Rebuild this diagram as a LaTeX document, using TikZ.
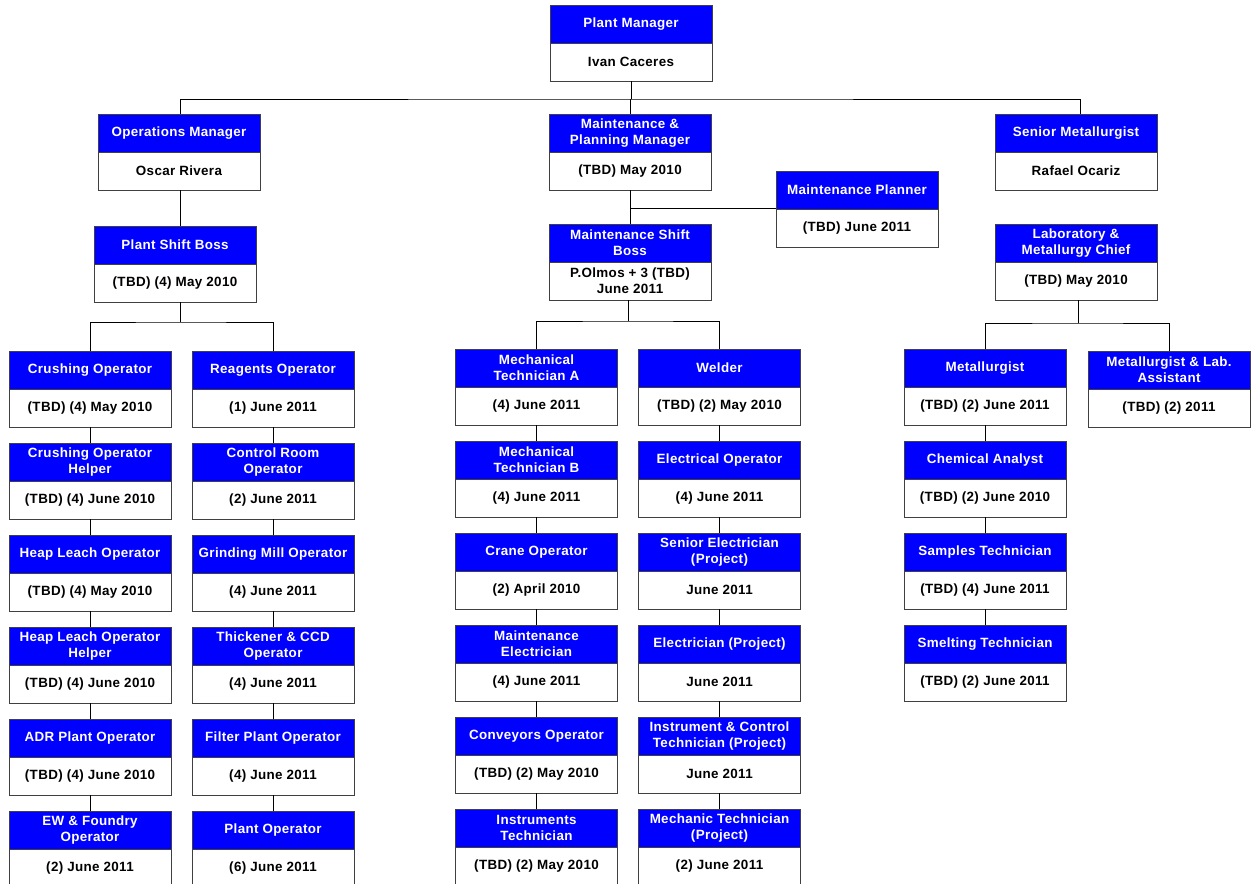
\documentclass[tikz,border=0pt]{standalone}
\usepackage{fontspec}
\setmainfont{Liberation Sans}[LetterSpace=2.5]
\definecolor{hblue}{RGB}{0,0,255}
\definecolor{bord}{RGB}{64,64,64}
\tikzset{
  hdr/.style={rectangle, fill=hblue, draw=bord, line width=0.9pt, minimum width=162, minimum height=38, inner sep=0, text=white, align=center, font=\fontsize{13.4}{16}\selectfont\bfseries},
  bdy/.style={rectangle, fill=white, draw=bord, line width=0.9pt, minimum width=162, minimum height=38, inner sep=0, text=black, align=center, font=\fontsize{13.4}{16}\selectfont\bfseries},
  conn/.style={draw=black, line width=0.9pt}
}
\newcommand\pbox[5]{%
  \node[hdr] (#1) at (#2,#3+19) {#4};
  \node[bdy] (#1-b) at (#2,#3+57) {#5};}
\begin{document}
\begin{tikzpicture}[x=1pt,y=-1pt]
\useasboundingbox (0,0) rectangle (1251,884);
% top
\pbox{pm}{631}{5}{Plant Manager}{Ivan Caceres}
\pbox{ops}{179}{114}{Operations Manager}{Oscar Rivera}
\pbox{mm}{630}{114}{Maintenance \&\\Planning Manager}{(TBD) May 2010}
\pbox{sm}{1076}{114}{Senior Metallurgist}{Rafael Ocariz}
\pbox{mp}{857}{171}{Maintenance Planner}{(TBD) June 2011}
\pbox{psb}{175}{226}{Plant Shift Boss}{(TBD) (4) May 2010}
\pbox{msb}{630}{224}{Maintenance Shift\\Boss}{P.Olmos + 3 (TBD)\\June 2011}
\pbox{lab}{1076}{224}{Laboratory \&\\Metallurgy Chief}{(TBD) May 2010}
% left columns
\pbox{l1}{90}{351}{Crushing Operator}{(TBD) (4) May 2010}
\pbox{l2}{90}{443}{Crushing Operator\\Helper}{(TBD) (4) June 2010}
\pbox{l3}{90}{535}{Heap Leach Operator}{(TBD) (4) May 2010}
\pbox{l4}{90}{627}{Heap Leach Operator\\Helper}{(TBD) (4) June 2010}
\pbox{l5}{90}{719}{ADR Plant Operator}{(TBD) (4) June 2010}
\pbox{l6}{90}{811}{EW \& Foundry\\Operator}{(2) June 2011}
\pbox{r1}{273}{351}{Reagents Operator}{(1) June 2011}
\pbox{r2}{273}{443}{Control Room\\Operator}{(2) June 2011}
\pbox{r3}{273}{535}{Grinding Mill Operator}{(4) June 2011}
\pbox{r4}{273}{627}{Thickener \& CCD\\Operator}{(4) June 2011}
\pbox{r5}{273}{719}{Filter Plant Operator}{(4) June 2011}
\pbox{r6}{273}{811}{Plant Operator}{(6) June 2011}
% middle columns
\pbox{m1}{536.5}{349}{Mechanical\\Technician A}{(4) June 2011}
\pbox{m2}{536.5}{441}{Mechanical\\Technician B}{(4) June 2011}
\pbox{m3}{536.5}{533}{Crane Operator}{(2) April 2010}
\pbox{m4}{536.5}{625}{Maintenance\\Electrician}{(4) June 2011}
\pbox{m5}{536.5}{717}{Conveyors Operator}{(TBD) (2) May 2010}
\pbox{m6}{536.5}{809}{Instruments\\Technician}{(TBD) (2) May 2010}
\pbox{n1}{719.5}{349}{Welder}{(TBD) (2) May 2010}
\pbox{n2}{719.5}{441}{Electrical Operator}{(4) June 2011}
\pbox{n3}{719.5}{533}{Senior Electrician\\(Project)}{June 2011}
\pbox{n4}{719.5}{625}{Electrician (Project)}{June 2011}
\pbox{n5}{719.5}{717}{Instrument \& Control\\Technician (Project)}{June 2011}
\pbox{n6}{719.5}{809}{Mechanic Technician\\(Project)}{(2) June 2011}
% right columns
\pbox{t1}{985}{349}{Metallurgist}{(TBD) (2) June 2011}
\pbox{t2}{985}{441}{Chemical Analyst}{(TBD) (2) June 2010}
\pbox{t3}{985}{533}{Samples Technician}{(TBD) (4) June 2011}
\pbox{t4}{985}{625}{Smelting Technician}{(TBD) (2) June 2011}
\pbox{ta}{1169}{351}{Metallurgist \& Lab.\\Assistant}{(TBD) (2) 2011}
% connectors
\coordinate (bus) at (631,99);
\draw[conn] (pm-b.south) -- (bus);
\draw[conn] ([xshift=1]ops.north) |- (bus) -| ([xshift=4]sm.north);
\draw[conn] (mm.north) -- (mm.north |- bus);
\coordinate (j1) at (180,322);
\draw[conn] (ops-b.south -| j1) -- (j1 |- psb.north);
\draw[conn] (j1 |- psb-b.south) -- (j1);
\draw[conn] (l1.north) |- (j1) -| (r1.north);
\draw[conn] (mm-b.south) -- (mm-b.south |- msb.north);
\draw[conn] (mm-b.south |- mp-b.north west) -- (mp-b.north west);
\coordinate (j2) at (628,321);
\draw[conn] (j2 |- msb-b.south) -- (j2);
\draw[conn] (m1.north) |- (j2) -| (n1.north);
\coordinate (j3) at (1078,323);
\draw[conn] (j3 |- lab-b.south) -- (j3);
\draw[conn] (t1.north) |- (j3) -| (ta.north);
\foreach \c in {l,r,m,n} {
  \foreach \i/\k in {1/2,2/3,3/4,4/5,5/6} {
    \draw[conn] (\c\i-b.south) -- (\c\k.north);
  }
}
\foreach \i/\k in {1/2,2/3,3/4} {
  \draw[conn] (t\i-b.south) -- (t\k.north);
}
\end{tikzpicture}
\end{document}
